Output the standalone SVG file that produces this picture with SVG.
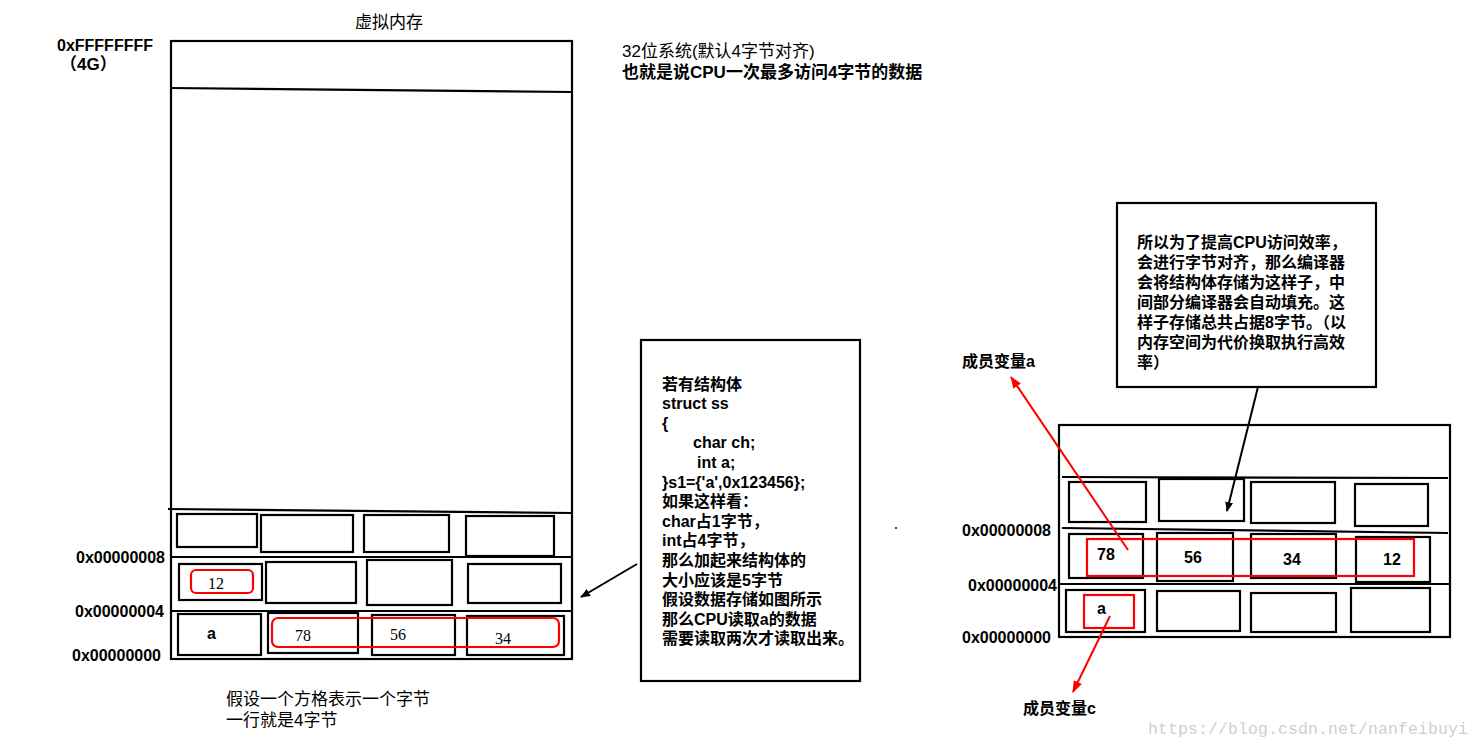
<svg xmlns="http://www.w3.org/2000/svg" width="1480" height="748" viewBox="0 0 1480 748">
<defs>
<style>
.b{fill:none;stroke:#000;stroke-width:2.2}
.r{fill:none;stroke:#ff0000;stroke-width:2.2}
.t{font-family:"Liberation Sans","Noto Sans CJK SC",sans-serif;font-size:17px;fill:#000;dominant-baseline:central}
.tb{font-family:"Liberation Sans","Noto Sans CJK SC",sans-serif;font-size:16px;font-weight:bold;fill:#000;dominant-baseline:central}
.addr{font-family:"Liberation Sans",sans-serif;font-size:16px;font-weight:bold;fill:#000;dominant-baseline:central}
.num{font-family:"Liberation Serif",serif;font-size:16px;fill:#000;dominant-baseline:central}
.numb{font-family:"Liberation Sans",sans-serif;font-size:16px;font-weight:bold;fill:#000;dominant-baseline:central}
</style>
<marker id="ab" markerWidth="10" markerHeight="8" refX="9" refY="4" orient="auto" markerUnits="userSpaceOnUse"><path d="M0,0 L10,4 L0,8 Z" fill="#000"/></marker>
<marker id="ar" markerWidth="12" markerHeight="9" refX="11" refY="4.5" orient="auto" markerUnits="userSpaceOnUse"><path d="M0,0 L12,4.5 L0,9 Z" fill="#ff0000"/></marker>
</defs>
<rect width="1480" height="748" fill="#fff"/>

<g id="title">
<text class="t" x="355" y="22">虚拟内存</text>
<text class="addr" x="57" y="45" font-size="16">0xFFFFFFFF</text>
<text class="t" x="60" y="64" font-size="16" font-weight="bold">（4G）</text>
</g>

<g id="note-top">
<text class="t" x="622" y="51">32位系统(默认4字节对齐)</text>
<text class="t" x="622" y="72" font-weight="bold">也就是说CPU一次最多访问4字节的数据</text>
</g>

<g id="left-memory">
<rect class="b" x="171" y="41" width="401" height="618"/>
<line class="b" x1="171" y1="88" x2="572" y2="92"/>
<line class="b" x1="168" y1="509" x2="572" y2="513"/>
<line class="b" x1="171" y1="557" x2="572" y2="557"/>
<line class="b" x1="171" y1="611" x2="572" y2="611"/>
<rect class="b" x="177" y="514" width="80" height="33"/>
<rect class="b" x="261" y="515" width="92" height="37"/>
<rect class="b" x="364" y="515" width="85" height="37"/>
<rect class="b" x="466" y="516" width="88" height="40"/>
<rect class="b" x="179" y="564" width="83" height="36"/>
<rect class="b" x="266" y="562" width="90" height="41"/>
<rect class="b" x="367" y="560" width="85" height="45"/>
<rect class="b" x="468" y="564" width="93" height="39"/>
<rect class="b" x="178" y="614" width="83" height="41"/>
<rect class="b" x="268" y="613" width="90" height="40"/>
<rect class="b" x="372" y="615" width="83" height="40"/>
<rect class="b" x="467" y="616" width="97" height="39"/>
<rect class="r" x="191" y="570" width="62" height="23" rx="5"/>
<rect class="r" x="272" y="618" width="287" height="29" rx="6"/>
<text class="num" x="208" y="583">12</text>
<text class="numb" x="207" y="633">a</text>
<text class="num" x="295" y="635">78</text>
<text class="num" x="390" y="634">56</text>
<text class="num" x="495" y="638">34</text>
<text class="addr" x="165" y="557" text-anchor="end">0x00000008</text>
<text class="addr" x="164" y="611" text-anchor="end">0x00000004</text>
<text class="addr" x="161" y="655" text-anchor="end">0x00000000</text>
</g>

<g id="note-bottom">
<text class="t" x="226" y="699">假设一个方格表示一个字节</text>
<text class="t" x="226" y="720">一行就是4字节</text>
</g>

<g id="struct-box">
<rect class="b" x="641" y="340" width="219" height="341"/>
<text class="tb" x="662" y="384">若有结构体</text>
<text class="tb" x="662" y="403.6">struct ss</text>
<text class="tb" x="662" y="423.2">{</text>
<text class="tb" x="693" y="442.8">char ch;</text>
<text class="tb" x="697" y="462.4">int a;</text>
<text class="tb" x="662" y="482">}s1={'a',0x123456};</text>
<text class="tb" x="662" y="501.6">如果这样看：</text>
<text class="tb" x="662" y="521.2">char占1字节，</text>
<text class="tb" x="662" y="540.8">int占4字节，</text>
<text class="tb" x="662" y="560.4">那么加起来结构体的</text>
<text class="tb" x="662" y="580">大小应该是5字节</text>
<text class="tb" x="662" y="599.6">假设数据存储如图所示</text>
<text class="tb" x="662" y="619.2">那么CPU读取a的数据</text>
<text class="tb" x="662" y="638.8">需要读取两次才读取出来。</text>
</g>

<g id="align-box">
<rect class="b" x="1117" y="203" width="259" height="184"/>
<text class="tb" x="1137" y="242" font-size="17">所以为了提高CPU访问效率，</text>
<text class="tb" x="1137" y="262" font-size="17">会进行字节对齐，那么编译器</text>
<text class="tb" x="1137" y="282" font-size="17">会将结构体存储为这样子，中</text>
<text class="tb" x="1137" y="302" font-size="17">间部分编译器会自动填充。这</text>
<text class="tb" x="1137" y="322" font-size="17">样子存储总共占据8字节。（以</text>
<text class="tb" x="1137" y="342" font-size="17">内存空间为代价换取执行高效</text>
<text class="tb" x="1137" y="362" font-size="17">率）</text>
</g>

<g id="right-memory">
<rect class="b" x="1059" y="425" width="391" height="212"/>
<line class="b" x1="1062" y1="477" x2="1448" y2="478"/>
<line class="b" x1="1062" y1="528" x2="1448" y2="533"/>
<line class="b" x1="1059" y1="584" x2="1450" y2="584"/>
<rect class="b" x="1069" y="482" width="77" height="40"/>
<rect class="b" x="1159" y="479" width="85" height="42"/>
<rect class="b" x="1251" y="482" width="84" height="41"/>
<rect class="b" x="1355" y="484" width="73" height="42"/>
<rect class="b" x="1069" y="534" width="74" height="44"/>
<rect class="b" x="1157" y="533" width="76" height="48"/>
<rect class="b" x="1251" y="534" width="85" height="44"/>
<rect class="b" x="1356" y="537" width="74" height="45"/>
<rect class="b" x="1066" y="590" width="79" height="42"/>
<rect class="b" x="1157" y="591" width="83" height="40"/>
<rect class="b" x="1251" y="593" width="85" height="39"/>
<rect class="b" x="1351" y="588" width="79" height="44"/>
<rect class="r" x="1087" y="539" width="327" height="37"/>
<rect class="r" x="1084" y="595" width="50" height="33"/>
<text class="numb" x="1097" y="554">78</text>
<text class="numb" x="1184" y="557">56</text>
<text class="numb" x="1283" y="559">34</text>
<text class="numb" x="1383" y="559">12</text>
<text class="numb" x="1097" y="608">a</text>
<text class="addr" x="1051" y="530" text-anchor="end">0x00000008</text>
<text class="addr" x="1057" y="585" text-anchor="end">0x00000004</text>
<text class="addr" x="1051" y="637" text-anchor="end">0x00000000</text>
</g>

<g id="labels">
<text class="tb" x="962" y="361">成员变量a</text>
<text class="tb" x="1023" y="708">成员变量c</text>
</g>

<g id="connectors">
<line x1="637" y1="564" x2="581" y2="597" stroke="#000" stroke-width="2" marker-end="url(#ab)"/>
<line x1="1258" y1="387" x2="1227" y2="511" stroke="#000" stroke-width="2" marker-end="url(#ab)"/>
<line x1="1128" y1="550" x2="1011" y2="377" stroke="#ff0000" stroke-width="2" marker-end="url(#ar)"/>
<line x1="1110" y1="616" x2="1073" y2="692" stroke="#ff0000" stroke-width="2" marker-end="url(#ar)"/>
</g>

<circle cx="896" cy="528" r="1" fill="#000"/>
<text x="1148" y="734" font-family="Liberation Mono,monospace" font-size="16.5" fill="#cfcfcf" textLength="320">https://blog.csdn.net/nanfeibuyi</text>
</svg>
